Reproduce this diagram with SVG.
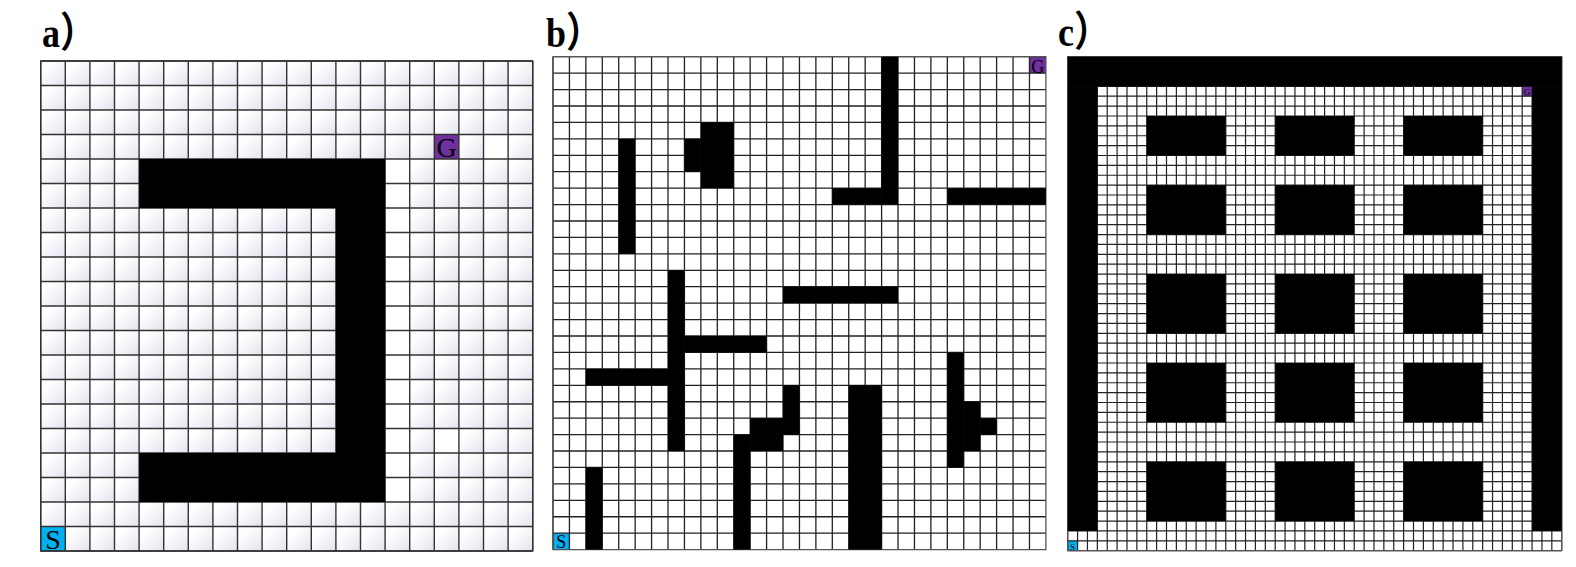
<svg xmlns="http://www.w3.org/2000/svg" width="1576" height="567" viewBox="0 0 1576 567">
<style>
.lbl{font-family:"Liberation Serif","Noto Sans CJK SC",serif;font-weight:bold;font-size:36px;fill:#000}
.par{font-family:"Noto Sans CJK SC",sans-serif;font-weight:bold}
.cl{font-family:"Liberation Serif",serif;fill:#000;text-anchor:middle}
.gl{fill:none;vector-effect:non-scaling-stroke}
.ob{fill:#000}
.gc{fill:#7030A0}
.sc{fill:#00B0F0}
</style>
<defs>
<linearGradient id="ga" x1="0" y1="0" x2="1" y2="1">
<stop offset="0.25" stop-color="#ffffff"/>
<stop offset="1" stop-color="#e3e3ef"/>
</linearGradient>
<pattern id="pa" patternUnits="userSpaceOnUse" width="1" height="1">
<rect width="1" height="1" fill="url(#ga)"/>
</pattern>
</defs>
<rect width="1576" height="567" fill="#fff"/>

<g id="labels">
<text class="lbl" transform="translate(42,46.5) scale(1,1.15)">a<tspan class="par">）</tspan></text>
<text class="lbl" transform="translate(546,46.5) scale(1,1.15)">b<tspan class="par">）</tspan></text>
<text class="lbl" transform="translate(1058,46) scale(1,1.15)">c<tspan class="par">）</tspan></text>
</g>

<g id="panel-a">
<g transform="translate(40.7,61) scale(24.6,24.5)">
<rect width="20" height="20" fill="url(#pa)"/>
<rect x="14" y="4" width="1" height="14" fill="#fff"/>
<rect x="16" y="15" width="1" height="1" fill="#fff"/>
<rect x="18" y="3" width="1" height="1" fill="#fff"/>
<rect class="gc" x="16" y="3" width="1" height="1"/>
<rect class="sc" x="0" y="19" width="1" height="1"/>
<path class="gl" stroke="#333" stroke-width="1.4" d="M0 0v20m1-20v20m1-20v20m1-20v20m1-20v20m1-20v20m1-20v20m1-20v20m1-20v20m1-20v20m1-20v20m1-20v20m1-20v20m1-20v20m1-20v20m1-20v20m1-20v20m1-20v20m1-20v20m1-20v20m1-20v20M0 0h20m-20 1h20m-20 1h20m-20 1h20m-20 1h20m-20 1h20m-20 1h20m-20 1h20m-20 1h20m-20 1h20m-20 1h20m-20 1h20m-20 1h20m-20 1h20m-20 1h20m-20 1h20m-20 1h20m-20 1h20m-20 1h20m-20 1h20m-20 1h20"/>
<rect class="gl" stroke="#333" stroke-width="1.4" width="20" height="20"/>
<rect class="ob" x="4" y="4" width="10" height="2"/>
<rect class="ob" x="12" y="4" width="2" height="14"/>
<rect class="ob" x="4" y="16" width="10" height="2"/>
</g>
<text class="cl" x="446.6" y="157" font-size="28">G</text>
<text class="cl" x="53" y="549" font-size="28">S</text>
</g>

<g id="panel-b">
<g transform="translate(553,56.7) scale(16.43)">
<rect class="gc" x="29" y="0" width="1" height="1"/>
<rect class="sc" x="0" y="29" width="1" height="1"/>
<path class="gl" stroke="#222" stroke-width="1.3" d="M0 0v30m1-30v30m1-30v30m1-30v30m1-30v30m1-30v30m1-30v30m1-30v30m1-30v30m1-30v30m1-30v30m1-30v30m1-30v30m1-30v30m1-30v30m1-30v30m1-30v30m1-30v30m1-30v30m1-30v30m1-30v30m1-30v30m1-30v30m1-30v30m1-30v30m1-30v30m1-30v30m1-30v30m1-30v30m1-30v30M0 0h30m-30 1h30m-30 1h30m-30 1h30m-30 1h30m-30 1h30m-30 1h30m-30 1h30m-30 1h30m-30 1h30m-30 1h30m-30 1h30m-30 1h30m-30 1h30m-30 1h30m-30 1h30m-30 1h30m-30 1h30m-30 1h30m-30 1h30m-30 1h30m-30 1h30m-30 1h30m-30 1h30m-30 1h30m-30 1h30m-30 1h30m-30 1h30m-30 1h30m-30 1h30"/>
<rect class="gl" stroke="#555" stroke-width="1.3" width="30" height="30"/>
<rect class="ob" x="20" y="0" width="1" height="9"/>
<rect class="ob" x="17" y="8" width="3" height="1"/>
<rect class="ob" x="24" y="8" width="6" height="1"/>
<rect class="ob" x="4" y="5" width="1" height="7"/>
<rect class="ob" x="9" y="4" width="2" height="4"/>
<rect class="ob" x="8" y="5" width="1" height="2"/>
<rect class="ob" x="14" y="14" width="7" height="1"/>
<rect class="ob" x="7" y="13" width="1" height="11"/>
<rect class="ob" x="8" y="17" width="5" height="1"/>
<rect class="ob" x="2" y="19" width="5" height="1"/>
<rect class="ob" x="2" y="25" width="1" height="5"/>
<rect class="ob" x="11" y="23" width="1" height="7"/>
<rect class="ob" x="12" y="22" width="2" height="2"/>
<rect class="ob" x="14" y="20" width="1" height="3"/>
<rect class="ob" x="18" y="20" width="2" height="10"/>
<rect class="ob" x="24" y="18" width="1" height="7"/>
<rect class="ob" x="25" y="21" width="1" height="3"/>
<rect class="ob" x="26" y="22" width="1" height="1"/>
</g>
<text class="cl" x="1037.7" y="72.5" font-size="18">G</text>
<text class="cl" x="561.2" y="547.5" font-size="18">S</text>
</g>

<g id="panel-c">
<g transform="translate(1067.7,56.7) scale(9.88)">
<rect class="gc" x="46" y="3" width="1" height="1"/>
<rect class="sc" x="0" y="49" width="1" height="1"/>
<path class="gl" stroke="#222" stroke-width="1.2" d="M0 0v50m1-50v50m1-50v50m1-50v50m1-50v50m1-50v50m1-50v50m1-50v50m1-50v50m1-50v50m1-50v50m1-50v50m1-50v50m1-50v50m1-50v50m1-50v50m1-50v50m1-50v50m1-50v50m1-50v50m1-50v50m1-50v50m1-50v50m1-50v50m1-50v50m1-50v50m1-50v50m1-50v50m1-50v50m1-50v50m1-50v50m1-50v50m1-50v50m1-50v50m1-50v50m1-50v50m1-50v50m1-50v50m1-50v50m1-50v50m1-50v50m1-50v50m1-50v50m1-50v50m1-50v50m1-50v50m1-50v50m1-50v50m1-50v50m1-50v50m1-50v50M0 0h50m-50 1h50m-50 1h50m-50 1h50m-50 1h50m-50 1h50m-50 1h50m-50 1h50m-50 1h50m-50 1h50m-50 1h50m-50 1h50m-50 1h50m-50 1h50m-50 1h50m-50 1h50m-50 1h50m-50 1h50m-50 1h50m-50 1h50m-50 1h50m-50 1h50m-50 1h50m-50 1h50m-50 1h50m-50 1h50m-50 1h50m-50 1h50m-50 1h50m-50 1h50m-50 1h50m-50 1h50m-50 1h50m-50 1h50m-50 1h50m-50 1h50m-50 1h50m-50 1h50m-50 1h50m-50 1h50m-50 1h50m-50 1h50m-50 1h50m-50 1h50m-50 1h50m-50 1h50m-50 1h50m-50 1h50m-50 1h50m-50 1h50m-50 1h50"/>
<rect class="gl" stroke="#555" stroke-width="1.2" width="50" height="50"/>
<rect class="ob" x="0" y="0" width="50" height="3"/>
<rect class="ob" x="0" y="3" width="3" height="45"/>
<rect class="ob" x="47" y="3" width="3" height="45"/>
<rect class="ob" x="8" y="6" width="8" height="4"/>
<rect class="ob" x="21" y="6" width="8" height="4"/>
<rect class="ob" x="34" y="6" width="8" height="4"/>
<rect class="ob" x="8" y="13" width="8" height="5"/>
<rect class="ob" x="21" y="13" width="8" height="5"/>
<rect class="ob" x="34" y="13" width="8" height="5"/>
<rect class="ob" x="8" y="22" width="8" height="6"/>
<rect class="ob" x="21" y="22" width="8" height="6"/>
<rect class="ob" x="34" y="22" width="8" height="6"/>
<rect class="ob" x="8" y="31" width="8" height="6"/>
<rect class="ob" x="21" y="31" width="8" height="6"/>
<rect class="ob" x="34" y="31" width="8" height="6"/>
<rect class="ob" x="8" y="41" width="8" height="6"/>
<rect class="ob" x="21" y="41" width="8" height="6"/>
<rect class="ob" x="34" y="41" width="8" height="6"/>
</g>
<text class="cl" x="1527.1" y="95.4" font-size="9">G</text>
<text class="cl" x="1072.6" y="550" font-size="9">S</text>
</g>
</svg>
